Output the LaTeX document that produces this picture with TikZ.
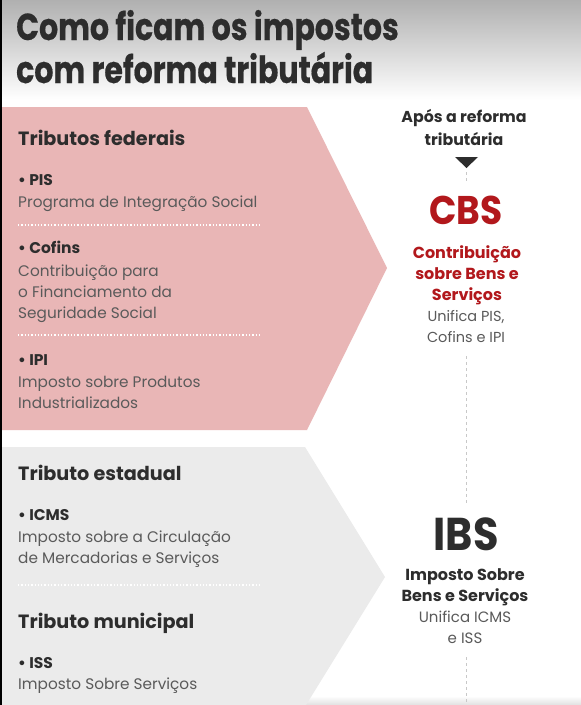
\documentclass[tikz,border=0pt]{standalone}
\usepackage{fontspec}
\setmainfont{Poppins}
\newfontfamily\titlefont[FakeStretch=0.80,FakeBold=0.5]{Poppins}
\newfontfamily\bigfont[FakeStretch=0.9]{Poppins}
\definecolor{pinkbg}{RGB}{233,182,182}
\definecolor{graybg}{RGB}{235,235,235}
\definecolor{headc}{RGB}{45,45,45}
\definecolor{bodyc}{RGB}{90,90,90}
\definecolor{redc}{RGB}{178,24,28}
\definecolor{dashc}{RGB}{200,200,200}
\tikzset{
  head/.style={anchor=base west, inner sep=0pt, font=\fontsize{19.2}{19}\selectfont\bfseries, text=headc},
  item/.style={anchor=base west, inner sep=0pt, font=\fontsize{15.5}{15}\selectfont\bfseries, text=headc},
  body/.style={anchor=base west, inner sep=0pt, font=\fontsize{15.3}{15}\selectfont, text=bodyc},
  rbold/.style={anchor=base, inner sep=0pt, font=\fontsize{16}{16}\selectfont\bfseries},
  rbody/.style={anchor=base, inner sep=0pt, font=\fontsize{14.5}{15}\selectfont, text=bodyc},
  ttl/.style={anchor=base west, inner sep=0pt, font=\fontsize{37.5}{37}\titlefont\bfseries, text=headc},
  sep/.style={white, line width=1.3pt, dash pattern=on 1.3pt off 2pt},
  vdash/.style={dashc, line width=1pt, dash pattern=on 3pt off 3pt},
}
\begin{document}
\begin{tikzpicture}[x=1pt,y=-1pt]
\useasboundingbox (0,0) rectangle (581,705);
\fill[white] (0,0) rectangle (581,705);
\shade[top color=black!31, bottom color=white] (0,0) rectangle (581,100);
\shade[top color=white, bottom color=black!12] (0,696) rectangle (581,705);
% shapes
\fill[pinkbg] (0,107) -- (307,107) -- (387,268) -- (307,430) -- (0,430) -- cycle;
\fill[graybg] (0,447) -- (305,447) -- (385,577) -- (306,705) -- (0,705) -- cycle;
\draw[black, line width=1.6pt] (0.8,0) -- (0.8,705);
% title
\node[ttl] (t1) at (16,40) {Como ficam os impostos};
\node[ttl] (t2) at (16,83) {com reforma tributária};
% federal
\node[head] (fed) at (18,145) {Tributos federais};
\node[item] (pis) at (18,185) {• PIS};
\node[body] (pisd) at (18,207) {Programa de Integração Social};
\draw[sep] (18,225) -- (260,225);
\node[item] (cof) at (18,253) {• Cofins};
\node[body] (cof1) at (18,276) {Contribuição para};
\node[body] (cof2) at (18,297) {o Financiamento da};
\node[body] (cof3) at (18,318) {Seguridade Social};
\draw[sep] (18,335) -- (260,335);
\node[item] (ipi) at (18,365) {• IPI};
\node[body] (ipi1) at (18,387) {Imposto sobre Produtos};
\node[body] (ipi2) at (18,408) {Industrializados};
% estadual / municipal
\node[head] (est) at (18,480) {Tributo estadual};
\node[item] (icms) at (18,520) {• ICMS};
\node[body] (icms1) at (18,542) {Imposto sobre a Circulação};
\node[body] (icms2) at (18,563) {de Mercadorias e Serviços};
\draw[sep] (18,585) -- (260,585);
\node[head] (mun) at (18,628) {Tributo municipal};
\node[item] (iss) at (18,668) {• ISS};
\node[body] (iss1) at (18,689) {Imposto Sobre Serviços};
% right column
\node[rbold, text=headc, font=\fontsize{15.8}{16}\selectfont\bfseries] (ap1) at (464,122) {Após a reforma};
\node[rbold, text=headc, font=\fontsize{15.8}{16}\selectfont\bfseries] (ap2) at (464,145) {tributária};
\fill[headc] (455,157) -- (478,157) -- (466.5,168) -- cycle;
\coordinate (d0) at (466,172);
\coordinate (d1) at (466,184);
\draw[vdash] (d0) -- (d1);
\node[anchor=base, inner sep=0pt, font=\fontsize{40}{40}\bigfont\bfseries, text=redc] (cbs) at (466,224) {CBS};
\node[rbold, text=redc] (c1) at (467,258) {Contribuição};
\node[rbold, text=redc] (c2) at (467,279) {sobre Bens e};
\node[rbold, text=redc] (c3) at (467,300) {Serviços};
\node[rbody] (c4) at (466,321) {Unifica PIS,};
\node[rbody] (c5) at (466,342) {Cofins e IPI};
\coordinate (d2) at (466,356);
\coordinate (d3) at (466,503);
\draw[vdash] (d2) -- (d3);
\node[anchor=base, inner sep=0pt, font=\fontsize{46}{46}\bigfont\bfseries, text=headc] (ibs) at (466,550) {IBS};
\node[rbold, text=headc] (i1) at (465,580) {Imposto Sobre};
\node[rbold, text=headc] (i2) at (465,601) {Bens e Serviços};
\node[rbody, font=\fontsize{15}{15}\selectfont] (i3) at (465,622) {Unifica ICMS};
\node[rbody, font=\fontsize{15}{15}\selectfont] (i4) at (465,643) {e ISS};
\coordinate (d4) at (466,657);
\coordinate (d5) at (466,705);
\draw[vdash] (d4) -- (d5);
\end{tikzpicture}
\end{document}
